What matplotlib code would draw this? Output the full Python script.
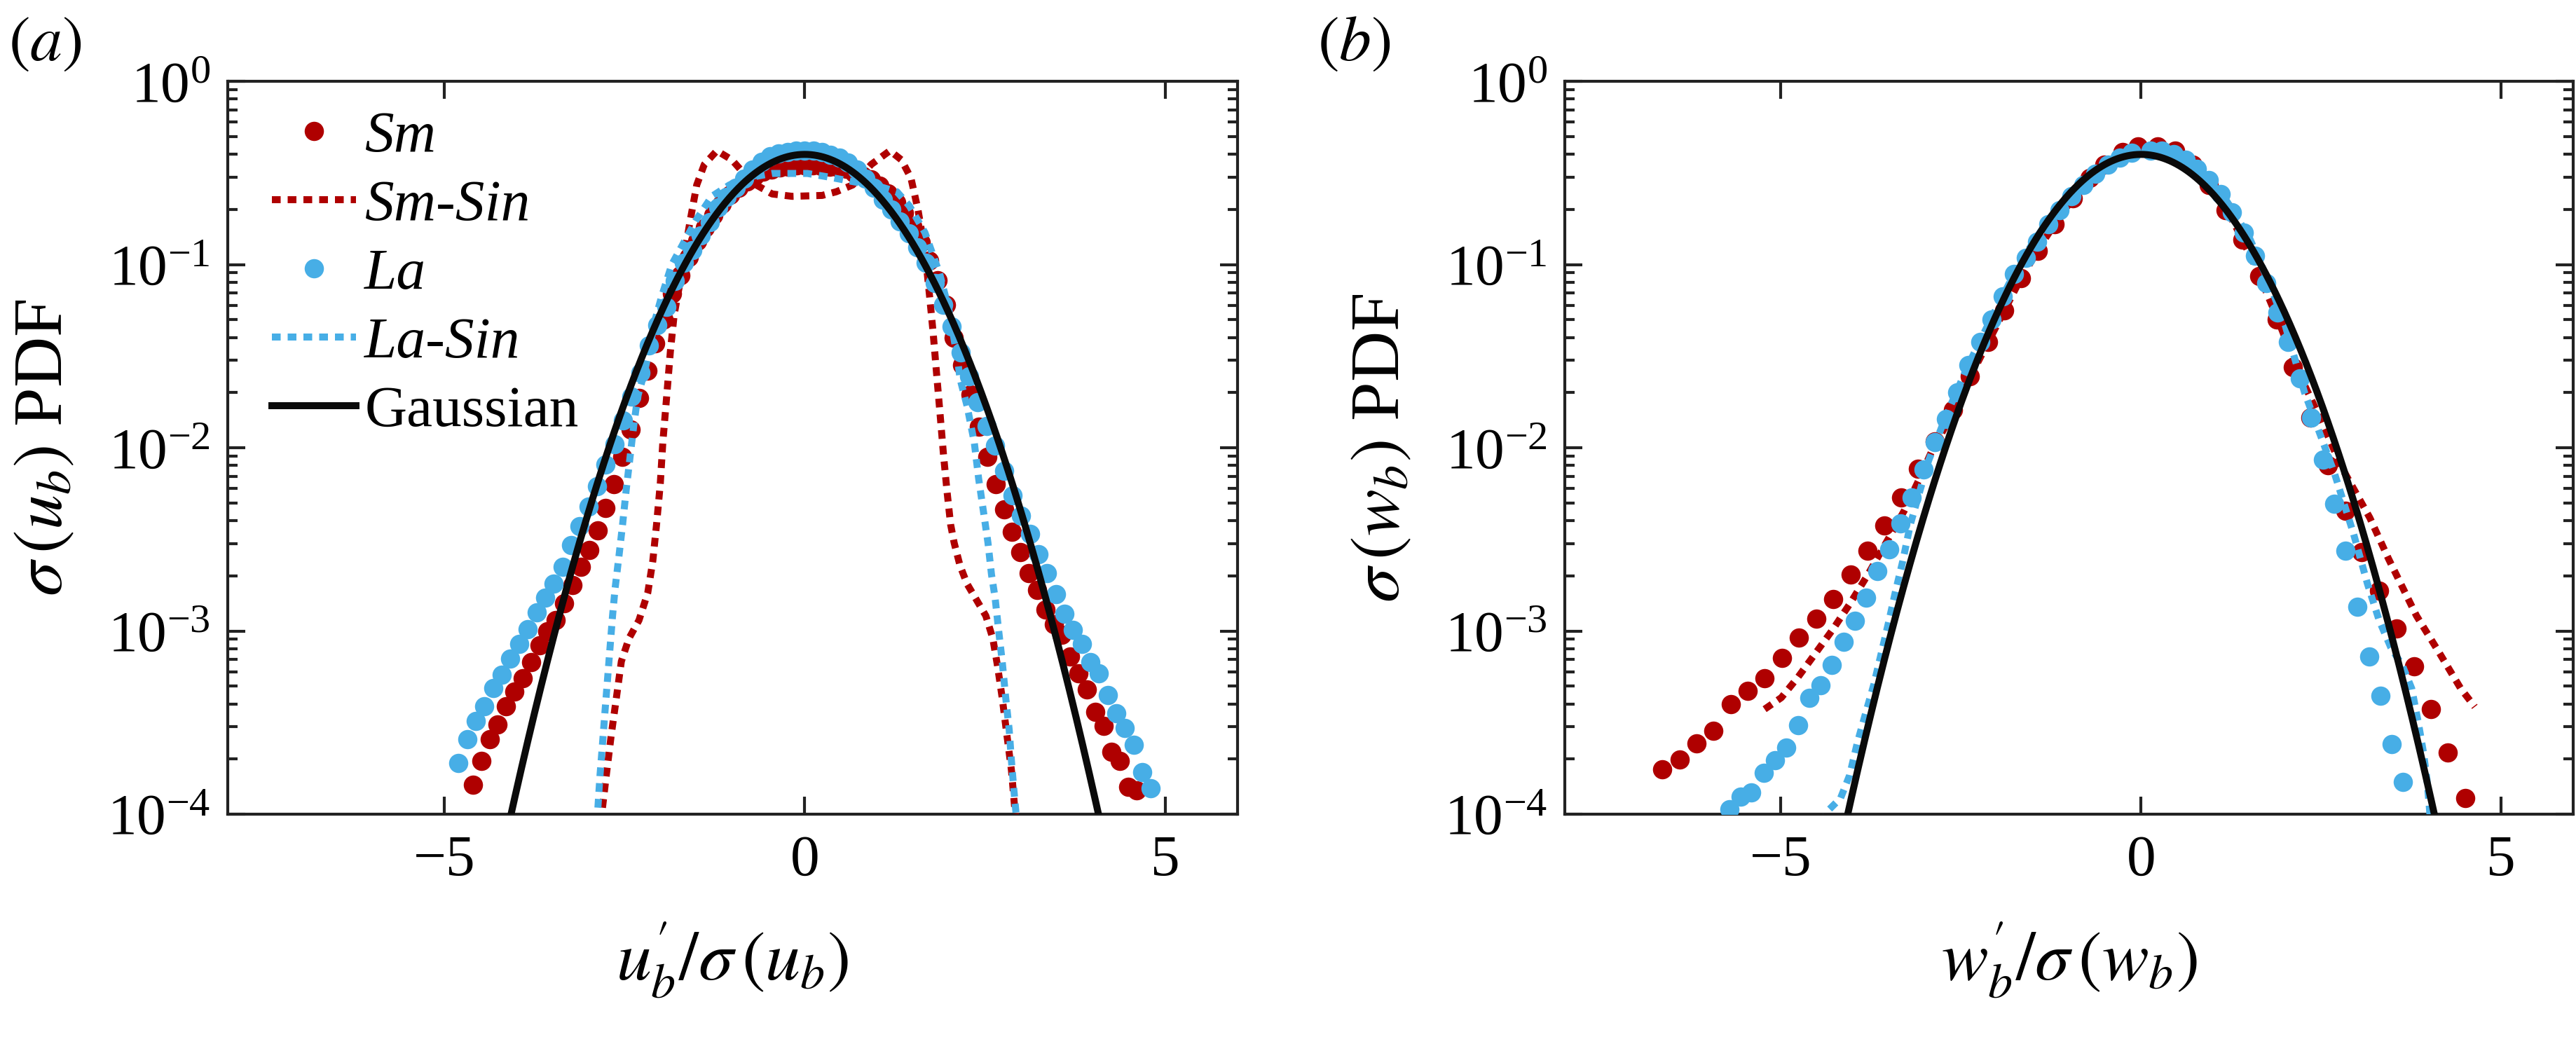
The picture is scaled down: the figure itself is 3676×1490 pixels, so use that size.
import numpy as np
import matplotlib
matplotlib.use("Agg")
import matplotlib.pyplot as plt
from matplotlib.ticker import LogLocator, NullFormatter, FixedLocator

plt.rcParams['font.family'] = ['Liberation Serif', 'DejaVu Serif']
plt.rcParams['mathtext.fontset'] = 'stix'

RED = '#AF0000'
BLUE = '#47AEE6'

# ---------------- panel (a): u_b ----------------
sm_a_x = [-4.600, -4.485, -4.370, -4.255, -4.140, -4.025, -3.910, -3.795, -3.680, -3.565,
          -3.450, -3.335, -3.220, -3.105, -2.990, -2.875, -2.760, -2.645, -2.530, -2.415,
          -2.300, -2.185, -2.070, -1.955, -1.840, -1.725, -1.610, -1.495, -1.380, -1.265,
          -1.150, -1.035, -0.920, -0.805, -0.690, -0.575, -0.460, -0.345, -0.230, -0.115,
          0.000, 0.115, 0.230, 0.345, 0.460, 0.575, 0.690, 0.805, 0.920, 1.035,
          1.150, 1.265, 1.380, 1.495, 1.610, 1.725, 1.840, 1.955, 2.070, 2.185,
          2.300, 2.415, 2.530, 2.645, 2.760, 2.875, 2.990, 3.105, 3.220, 3.335,
          3.450, 3.565, 3.680, 3.795, 3.910, 4.025, 4.140, 4.255, 4.370, 4.485, 4.600]
sm_a_log10 = [-3.84, -3.71, -3.59, -3.51, -3.41, -3.33, -3.26, -3.17, -3.08, -3.00,
              -2.94, -2.85, -2.75, -2.65, -2.56, -2.45, -2.33, -2.20, -2.05, -1.90,
              -1.73, -1.58, -1.43, -1.30, -1.16, -1.06, -0.96, -0.87, -0.80, -0.73,
              -0.67, -0.62, -0.58, -0.545, -0.515, -0.495, -0.48, -0.47, -0.465, -0.46,
              -0.46, -0.46, -0.462, -0.465, -0.47, -0.478, -0.50, -0.515, -0.535, -0.57,
              -0.61, -0.66, -0.72, -0.79, -0.88, -0.98, -1.085, -1.22, -1.40, -1.55,
              -1.71, -1.885, -2.05, -2.20, -2.335, -2.46, -2.57, -2.685, -2.775, -2.885,
              -2.965, -3.02, -3.14, -3.23, -3.32, -3.44, -3.52, -3.66, -3.71, -3.85, -3.87]

la_a_x = [-4.80, -4.68, -4.56, -4.44, -4.32, -4.20, -4.08, -3.96, -3.84, -3.72,
          -3.60, -3.48, -3.36, -3.24, -3.12, -3.00, -2.88, -2.76, -2.64, -2.52,
          -2.40, -2.28, -2.16, -2.04, -1.92, -1.80, -1.68, -1.56, -1.44, -1.32,
          -1.20, -1.08, -0.96, -0.84, -0.72, -0.60, -0.48, -0.36, -0.24, -0.12,
          0.00, 0.12, 0.24, 0.36, 0.48, 0.60, 0.72, 0.84, 0.96, 1.08,
          1.20, 1.32, 1.44, 1.56, 1.68, 1.80, 1.92, 2.04, 2.16, 2.28,
          2.40, 2.52, 2.64, 2.76, 2.88, 3.00, 3.12, 3.24, 3.36, 3.48,
          3.60, 3.72, 3.84, 3.96, 4.08, 4.20, 4.32, 4.44, 4.56, 4.68, 4.80]
la_a_log10 = [-3.72, -3.59, -3.49, -3.41, -3.31, -3.24, -3.15, -3.07, -2.99, -2.90,
              -2.82, -2.74, -2.65, -2.53, -2.43, -2.32, -2.21, -2.09, -1.98, -1.85,
              -1.72, -1.59, -1.44, -1.33, -1.23, -1.09, -0.99, -0.92, -0.84, -0.77,
              -0.69, -0.63, -0.58, -0.53, -0.48, -0.44, -0.41, -0.395, -0.385, -0.38,
              -0.38, -0.38, -0.385, -0.40, -0.415, -0.445, -0.48, -0.53, -0.58, -0.645,
              -0.70, -0.765, -0.83, -0.905, -0.99, -1.10, -1.22, -1.34, -1.48, -1.61,
              -1.75, -1.88, -1.99, -2.125, -2.26, -2.37, -2.47, -2.58, -2.685, -2.80,
              -2.905, -2.995, -3.07, -3.17, -3.23, -3.35, -3.45, -3.53, -3.62, -3.77, -3.86]

smsin_a_x = [-2.830, -2.752, -2.682, -2.612, -2.543, -2.438, -2.299, -2.177, -2.107, -2.055,
             -2.003, -1.968, -1.915, -1.863, -1.811, -1.742, -1.672, -1.585, -1.498, -1.393,
             -1.219, -1.010, -0.731, -0.452, -0.173, 0.241, 0.436, 0.664, 0.921, 1.180,
             1.340, 1.472, 1.570, 1.666, 1.731, 1.780, 1.828, 1.877, 1.925, 1.974,
             2.022, 2.071, 2.152, 2.250, 2.380, 2.510, 2.607, 2.672, 2.737, 2.801,
             2.866, 2.915, 2.940]
smsin_a_log10 = [-4.05, -3.788, -3.564, -3.365, -3.166, -3.041, -2.942, -2.792, -2.618, -2.419,
                 -2.195, -1.971, -1.722, -1.473, -1.274, -1.125, -0.951, -0.752, -0.566, -0.454,
                 -0.379, -0.429, -0.553, -0.615, -0.628, -0.623, -0.603, -0.566, -0.454, -0.379,
                 -0.429, -0.528, -0.702, -0.926, -1.175, -1.374, -1.598, -1.822, -2.046, -2.245,
                 -2.419, -2.519, -2.643, -2.743, -2.830, -2.917, -3.041, -3.190, -3.365, -3.564,
                 -3.763, -3.987, -4.05]

lasin_a_x = [-2.890, -2.874, -2.839, -2.804, -2.770, -2.735, -2.700, -2.665, -2.630, -2.577,
             -2.526, -2.473, -2.421, -2.369, -2.317, -2.229, -2.159, -2.073, -1.985, -1.845,
             -1.672, -1.498, -1.289, -1.045, -0.801, -0.452, 0.036, 0.338, 0.700, 1.000,
             1.278, 1.450, 1.666, 1.870, 2.000, 2.120, 2.152, 2.250, 2.350, 2.411,
             2.476, 2.540, 2.589, 2.638, 2.686, 2.737, 2.786, 2.834, 2.866, 2.898,
             2.930, 2.950]
lasin_a_log10 = [-4.05, -4.00, -3.788, -3.614, -3.44, -3.266, -3.091, -2.917, -2.768, -2.594,
                 -2.419, -2.22, -2.046, -1.872, -1.722, -1.598, -1.473, -1.299, -1.175, -1.001,
                 -0.876, -0.752, -0.628, -0.566, -0.528, -0.503, -0.503, -0.523, -0.55, -0.57,
                 -0.603, -0.68, -0.826, -1.05, -1.25, -1.523, -1.623, -1.772, -1.971, -2.17,
                 -2.345, -2.519, -2.693, -2.817, -2.991, -3.166, -3.365, -3.539, -3.713, -3.862,
                 -4.00, -4.05]

# ---------------- panel (b): w_b ----------------
sm_b_x = [-6.643, -6.406, -6.171, -5.937, -5.695, -5.462, -5.228, -4.981, -4.748, -4.507,
          -4.273, -4.033, -3.799, -3.568, -3.333, -3.092, -2.859, -2.613, -2.381, -2.128,
          -1.896, -1.665, -1.433, -1.201, -0.949, -0.716, -0.505, -0.253, -0.043, 0.228,
          0.471, 0.714, 0.941, 1.170, 1.411, 1.638, 1.880, 2.108, 2.350, 2.594,
          2.836, 3.063, 3.306, 3.550, 3.793, 4.026, 4.262, 4.500]
sm_b_log10 = [-3.756, -3.702, -3.615, -3.545, -3.40, -3.327, -3.26, -3.149, -3.038, -2.934,
              -2.827, -2.694, -2.564, -2.424, -2.273, -2.113, -1.964, -1.792, -1.61, -1.424,
              -1.25, -1.075, -0.926, -0.782, -0.64, -0.528, -0.454, -0.386, -0.354, -0.354,
              -0.379, -0.454, -0.566, -0.702, -0.864, -1.063, -1.30, -1.561, -1.834, -2.096,
              -2.344, -2.568, -2.78, -2.986, -3.195, -3.427, -3.663, -3.912]

la_b_x = [-5.710, -5.554, -5.408, -5.240, -5.078, -4.922, -4.762, -4.602, -4.446, -4.290,
          -4.130, -3.970, -3.814, -3.658, -3.498, -3.338, -3.182, -3.021, -2.866, -2.706,
          -2.550, -2.394, -2.233, -2.074, -1.918, -1.762, -1.602, -1.441, -1.286, -1.129,
          -0.970, -0.800, -0.633, -0.464, -0.295, -0.126, 0.131, 0.293, 0.455, 0.617,
          0.779, 0.941, 1.103, 1.265, 1.427, 1.583, 1.735, 1.890, 2.042, 2.205,
          2.366, 2.528, 2.684, 2.842, 3.004, 3.166, 3.322, 3.484, 3.639]
la_b_log10 = [-3.974, -3.906, -3.881, -3.776, -3.706, -3.635, -3.514, -3.364, -3.295, -3.185,
              -3.061, -2.946, -2.817, -2.673, -2.556, -2.414, -2.27, -2.12, -1.971, -1.842,
              -1.697, -1.548, -1.424, -1.30, -1.175, -1.051, -0.964, -0.876, -0.782, -0.702,
              -0.628, -0.565, -0.503, -0.454, -0.416, -0.391, -0.379, -0.379, -0.399, -0.429,
              -0.478, -0.541, -0.615, -0.715, -0.827, -0.951, -1.10, -1.262, -1.424, -1.623,
              -1.834, -2.066, -2.307, -2.563, -2.867, -3.14, -3.352, -3.618, -3.825]

smsin_b_x = [-5.226, -4.994, -4.762, -4.509, -4.278, -4.046, -3.793, -3.540, -3.288, -3.077,
             -2.908, -2.600, -2.300, -2.000, -1.700, -1.400, -1.100, -0.800, -0.500, -0.200,
             0.100, 0.400, 0.700, 1.000, 1.300, 1.600, 1.900, 2.200, 2.500, 2.787,
             3.176, 3.436, 3.824, 4.116, 4.440, 4.634]
smsin_b_log10 = [-3.427, -3.364, -3.252, -3.116, -2.991, -2.854, -2.693, -2.519, -2.344, -2.17,
                 -2.021, -1.80, -1.56, -1.33, -1.10, -0.90, -0.72, -0.57, -0.46, -0.38,
                 -0.355, -0.37, -0.45, -0.585, -0.78, -1.02, -1.30, -1.60, -1.85, -2.108,
                 -2.382, -2.606, -2.917, -3.103, -3.315, -3.414]

lasin_b_x = [-4.400, -4.362, -4.172, -4.046, -3.941, -3.835, -3.708, -3.603, -3.498, -3.414,
             -3.308, -3.203, -3.077, -2.950, -2.700, -2.400, -2.100, -1.800, -1.500, -1.200,
             -0.900, -0.600, -0.300, 0.000, 0.300, 0.600, 0.900, 1.200, 1.500, 1.800,
             2.000, 2.269, 2.528, 2.690, 2.950, 3.144, 3.306, 3.468, 3.630, 3.759,
             3.856, 3.921, 3.970, 4.003, 4.020]
lasin_b_log10 = [-4.05, -3.987, -3.913, -3.788, -3.614, -3.465, -3.29, -3.116, -2.942, -2.793,
                 -2.619, -2.419, -2.245, -2.071, -1.82, -1.55, -1.31, -1.08, -0.88, -0.71,
                 -0.58, -0.48, -0.41, -0.39, -0.39, -0.43, -0.52, -0.66, -0.85, -1.12,
                 -1.33, -1.697, -1.971, -2.145, -2.469, -2.743, -2.942, -3.09, -3.19, -3.315,
                 -3.514, -3.663, -3.812, -3.962, -4.05]

labels = ['Sm', 'Sm-Sin', 'La', 'La-Sin', 'Gaussian']
label_italic = [True, True, True, True, False]
x_ticks = [-5, 0, 5]
xlim = (-8, 6)
ylim = (1e-4, 1)

# reference standard normal density
xg = np.linspace(-4.5, 4.5, 600)
gauss = np.exp(-0.5 * xg ** 2) / np.sqrt(2 * np.pi)

W, H = 3676, 1490
DPI = 300
fig = plt.figure(figsize=(W / DPI, H / DPI), dpi=DPI)
ax1 = fig.add_axes([325 / W, (H - 1162) / H, 1441 / W, 1046 / H])
ax2 = fig.add_axes([2233 / W, (H - 1162) / H, 1439 / W, 1046 / H])

MS = 6.6
LW_DOT = 2.4
DOT = (0, (1.25, 1.0))


def draw(ax, sx, sy, ssx, ssy, lx, ly, lsx, lsy):
    ax.plot(sx, 10 ** np.array(sy), 'o', color=RED, ms=MS, mew=0, label=labels[0], zorder=2)
    ax.plot(ssx, 10 ** np.array(ssy), color=RED, lw=LW_DOT, linestyle=DOT,
            dash_capstyle='butt', label=labels[1], zorder=3)
    ax.plot(lx, 10 ** np.array(ly), 'o', color=BLUE, ms=MS, mew=0, label=labels[2], zorder=4)
    ax.plot(lsx, 10 ** np.array(lsy), color=BLUE, lw=LW_DOT, linestyle=DOT,
            dash_capstyle='butt', label=labels[3], zorder=5)
    ax.plot(xg, gauss, color='#0a0a0a', lw=2.4, label=labels[4], zorder=6)
    ax.set_yscale('log')
    ax.set_xlim(*xlim)
    ax.set_ylim(*ylim)
    ax.xaxis.set_major_locator(FixedLocator(x_ticks))
    ax.yaxis.set_major_locator(LogLocator(base=10, numticks=10))
    ax.yaxis.set_minor_locator(LogLocator(base=10, subs=np.arange(2, 10), numticks=20))
    ax.yaxis.set_minor_formatter(NullFormatter())
    ax.tick_params(which='both', direction='in', top=True, right=True, width=1.0,
                   color='#222222', labelsize=20)
    ax.tick_params(which='major', length=6)
    ax.tick_params(which='minor', length=3.4)
    ax.tick_params(axis='y', pad=6)
    ax.tick_params(axis='x', pad=7)
    for s in ax.spines.values():
        s.set_linewidth(1.0)
        s.set_color('#222222')


draw(ax1, sm_a_x, sm_a_log10, smsin_a_x, smsin_a_log10, la_a_x, la_a_log10, lasin_a_x, lasin_a_log10)
draw(ax2, sm_b_x, sm_b_log10, smsin_b_x, smsin_b_log10, la_b_x, la_b_log10, lasin_b_x, lasin_b_log10)

LABEL_FS = 24
ax1.set_ylabel(r'$\sigma\,(u_b)$ PDF', fontsize=LABEL_FS)
ax1.set_xlabel(r"$u^{\prime}_b/\sigma\,(u_b)$", fontsize=LABEL_FS)
ax2.set_ylabel(r'$\sigma\,(w_b)$ PDF', fontsize=LABEL_FS)
ax2.set_xlabel(r"$w^{\prime}_b/\sigma\,(w_b)$", fontsize=LABEL_FS)
for ax in (ax1, ax2):
    ax.yaxis.set_label_coords(-0.150, 0.5)
    ax.xaxis.set_label_coords(0.5, -0.145)

leg = ax1.legend(loc='upper left', bbox_to_anchor=(0.0437, 0.960), frameon=False,
                 fontsize=20, numpoints=1, handlelength=1.44, handletextpad=0.15,
                 labelspacing=0.26, borderaxespad=0.0, borderpad=0.0)
for t, it in zip(leg.get_texts(), label_italic):
    if it:
        t.set_fontstyle('italic')

fig.text(12 / W, 1 - 22 / H, '$(a)$', fontsize=22, ha='left', va='top')
fig.text(1880 / W, 1 - 22 / H, '$(b)$', fontsize=22, ha='left', va='top')

fig.savefig('out.png', dpi=DPI)
